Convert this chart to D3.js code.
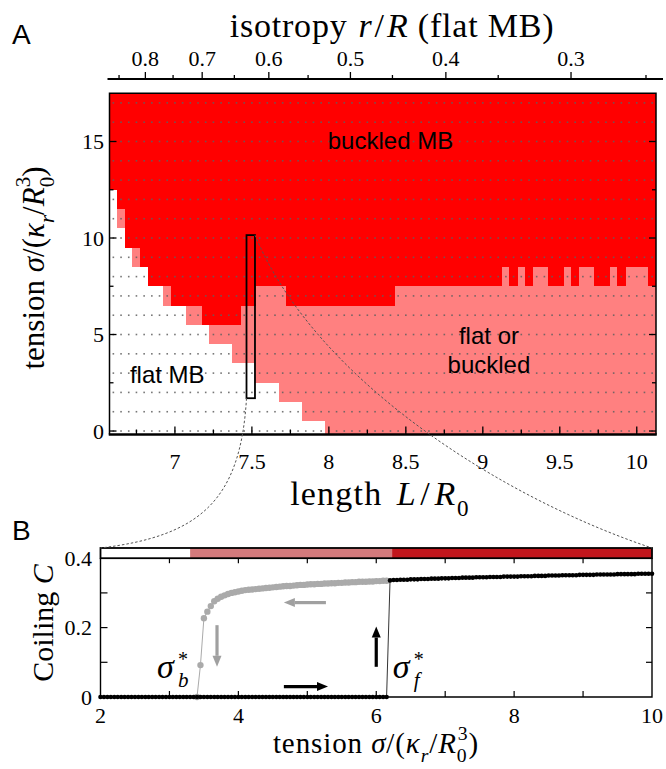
<!DOCTYPE html>
<html>
<head>
<meta charset="utf-8">
<script src="https://cdnjs.cloudflare.com/ajax/libs/d3/7.8.5/d3.min.js"></script>
<style>
  body { margin: 0; background: #fff; }
  svg { display: block; }
</style>
</head>
<body>
<svg id="chart"></svg>
<script>
// ---- panel A: phase diagram, one column per simulated length L/R0 ----
const lengths = [
  6.60, 6.65, 6.70, 6.75, 6.80, 6.85, 6.90, 6.95, 7.00, 7.05,
  7.10, 7.15, 7.20, 7.25, 7.30, 7.35, 7.40, 7.45, 7.50, 7.55,
  7.60, 7.65, 7.70, 7.75, 7.80, 7.85, 7.90, 7.95, 8.00, 8.05,
  8.10, 8.15, 8.20, 8.25, 8.30, 8.35, 8.40, 8.45, 8.50, 8.55,
  8.60, 8.65, 8.70, 8.75, 8.80, 8.85, 8.90, 8.95, 9.00, 9.05,
  9.10, 9.15, 9.20, 9.25, 9.30, 9.35, 9.40, 9.45, 9.50, 9.55,
  9.60, 9.65, 9.70, 9.75, 9.80, 9.85, 9.90, 9.95, 10.00, 10.05,
  10.10
];
// lowest tension that is no longer flat (flat or buckled)
const bistableFrom = [
  13, 11, 10, 9, 9, 8, 8, 7, 7, 7,
  6, 6, 6, 5, 5, 5, 4, 4, 4, 3,
  3, 3, 2, 2, 2, 1, 1, 1, 0, 0,
  0, 0, 0, 0, 0, 0, 0, 0, 0, 0,
  0, 0, 0, 0, 0, 0, 0, 0, 0, 0,
  0, 0, 0, 0, 0, 0, 0, 0, 0, 0,
  0, 0, 0, 0, 0, 0, 0, 0, 0, 0,
  0
];
// lowest tension that is always buckled
const buckledFrom = [
  13, 12, 10, 10, 9, 8, 8, 8, 7, 7,
  7, 7, 6, 6, 6, 6, 6, 7, 7, 8,
  8, 8, 8, 7, 7, 7, 7, 7, 7, 7,
  7, 7, 7, 7, 7, 7, 7, 8, 8, 8,
  8, 8, 8, 8, 8, 8, 8, 8, 8, 8,
  8, 9, 8, 9, 8, 9, 9, 8, 8, 9,
  8, 9, 9, 8, 8, 9, 8, 9, 9, 9,
  8
];
const tensions = [0, 1, 2, 3, 4, 5, 6, 7, 8, 9, 10, 11, 12, 13, 14, 15, 16, 17];

const lengthMajor = [7, 7.5, 8, 8.5, 9, 9.5, 10];
const lengthMinor = [6.75, 7.25, 7.75, 8.25, 8.75, 9.25, 9.75];
const tensionMajor = [0, 5, 10, 15];
const tensionMinor = [2.5, 7.5, 12.5];

// top axis: isotropy r/R of the flat MB, and the length where each tick sits
const isoMajor = [0.8, 0.7, 0.6, 0.5, 0.4, 0.3];
const isoMajorAt = [6.808, 7.177, 7.610, 8.140, 8.760, 9.573];
const isoMinor = [0.85, 0.75, 0.65, 0.55, 0.45, 0.35, 0.25];
const isoMinorAt = [6.637, 6.988, 7.386, 7.865, 8.413, 9.100, 10.060];

// zoom window drawn in A (L range, tension range)
const zoomL = [7.465, 7.52];
const zoomS = [1.7, 10.15];

// ---- panel B: coiling vs tension at L/R0 = 7.5 ----
const fwdSigma = [
  2, 2.05, 2.1, 2.15, 2.2, 2.25, 2.3, 2.35, 2.4, 2.45, 2.5, 2.55, 2.6, 2.65, 2.7, 2.75, 2.8, 2.85, 2.9, 2.95,
  3, 3.05, 3.1, 3.15, 3.2, 3.25, 3.3, 3.35, 3.4, 3.45, 3.5, 3.55, 3.6, 3.65, 3.7, 3.75, 3.8, 3.85, 3.9, 3.95,
  4, 4.05, 4.1, 4.15, 4.2, 4.25, 4.3, 4.35, 4.4, 4.45, 4.5, 4.55, 4.6, 4.65, 4.7, 4.75, 4.8, 4.85, 4.9, 4.95,
  5, 5.05, 5.1, 5.15, 5.2, 5.25, 5.3, 5.35, 5.4, 5.45, 5.5, 5.55, 5.6, 5.65, 5.7, 5.75, 5.8, 5.85, 5.9, 5.95,
  6, 6.05, 6.1, 6.15, 6.2, 6.25, 6.3, 6.35, 6.4, 6.45, 6.5, 6.55, 6.6, 6.65, 6.7, 6.75, 6.8, 6.85, 6.9, 6.95,
  7, 7.05, 7.1, 7.15, 7.2, 7.25, 7.3, 7.35, 7.4, 7.45, 7.5, 7.55, 7.6, 7.65, 7.7, 7.75, 7.8, 7.85, 7.9, 7.95,
  8, 8.05, 8.1, 8.15, 8.2, 8.25, 8.3, 8.35, 8.4, 8.45, 8.5, 8.55, 8.6, 8.65, 8.7, 8.75, 8.8, 8.85, 8.9, 8.95,
  9, 9.05, 9.1, 9.15, 9.2, 9.25, 9.3, 9.35, 9.4, 9.45, 9.5, 9.55, 9.6, 9.65, 9.7, 9.75, 9.8, 9.85, 9.9, 9.95,
  10
];
const fwdCoiling = [
  0, 0, 0, 0, 0, 0, 0, 0, 0, 0, 0, 0, 0, 0, 0, 0, 0, 0, 0, 0,
  0, 0, 0, 0, 0, 0, 0, 0, 0, 0, 0, 0, 0, 0, 0, 0, 0, 0, 0, 0,
  0, 0, 0, 0, 0, 0, 0, 0, 0, 0, 0, 0, 0, 0, 0, 0, 0, 0, 0, 0,
  0, 0, 0, 0, 0, 0, 0, 0, 0, 0, 0, 0, 0, 0, 0, 0, 0, 0, 0, 0,
  0, 0, 0, 0, 0.336, 0.337, 0.337, 0.338, 0.338, 0.338, 0.339, 0.339, 0.339, 0.340, 0.340, 0.340, 0.341, 0.341, 0.341, 0.342,
  0.342, 0.342, 0.343, 0.343, 0.343, 0.344, 0.344, 0.344, 0.344, 0.345, 0.345, 0.345, 0.345, 0.346, 0.346, 0.346, 0.346, 0.347, 0.347, 0.347,
  0.347, 0.347, 0.348, 0.348, 0.348, 0.348, 0.349, 0.349, 0.349, 0.349, 0.350, 0.350, 0.350, 0.350, 0.351, 0.351, 0.351, 0.351, 0.351, 0.352,
  0.352, 0.352, 0.352, 0.352, 0.353, 0.353, 0.353, 0.353, 0.353, 0.353, 0.354, 0.354, 0.354, 0.354, 0.354, 0.354, 0.355, 0.355, 0.355, 0.355,
  0.355
];
// backward sweep (grey), visible part only
const bwdSigma = [
  3.4, 3.45, 3.5, 3.55, 3.6, 3.65, 3.7, 3.75, 3.8, 3.85, 3.9, 3.95,
  4, 4.05, 4.1, 4.15, 4.2, 4.25, 4.3, 4.35, 4.4, 4.45, 4.5, 4.55, 4.6, 4.65, 4.7, 4.75, 4.8, 4.85, 4.9, 4.95,
  5, 5.05, 5.1, 5.15, 5.2, 5.25, 5.3, 5.35, 5.4, 5.45, 5.5, 5.55, 5.6, 5.65, 5.7, 5.75, 5.8, 5.85, 5.9, 5.95,
  6, 6.05, 6.1, 6.15
];
const bwdCoiling = [
  0, 0.092, 0.227, 0.246, 0.262, 0.276, 0.283, 0.289, 0.293, 0.297, 0.300, 0.302,
  0.304, 0.306, 0.308, 0.309, 0.310, 0.311, 0.312, 0.313, 0.314, 0.315, 0.316, 0.317, 0.318, 0.319, 0.320, 0.320, 0.321, 0.322, 0.323, 0.323,
  0.324, 0.325, 0.325, 0.326, 0.326, 0.327, 0.327, 0.328, 0.328, 0.329, 0.329, 0.330, 0.330, 0.331, 0.331, 0.332, 0.332, 0.332, 0.333, 0.333,
  0.334, 0.334, 0.335, 0.335
];
// state bar above B: flat | flat or buckled | buckled
const barBreaks = [2, 3.3, 6.23, 10];
const barColors = ['#ffffff', '#d47a7c', '#c1161c'];

const sigmaMajor = [2, 4, 6, 8, 10];
const sigmaTicks = [3, 4, 5, 6, 7, 8, 9];
const coilMajor = [0, 0.2, 0.4];
const coilTicks = [0.1, 0.2, 0.3];

// arrows: [sigma0, C0, sigma1, C1, colour]
const arrows = [
  [5.27, 0.272, 4.66, 0.272, '#a0a0a0'],
  [3.69, 0.207, 3.69, 0.087, '#a0a0a0'],
  [4.66, 0.030, 5.30, 0.030, '#000'],
  [6.00, 0.087, 6.00, 0.203, '#000']
];

const W = 666, H = 769;
const RED = '#ff0000', PINK = '#ff8080';
const SERIF = '"Liberation Serif", "Times New Roman", serif';
const SANS = '"Liberation Sans", Arial, sans-serif';

const svg = d3.select('#chart').attr('width', W).attr('height', H);

// ---------------- panel A ----------------
const xA = d3.scaleLinear().domain([6.575, 10.125]).range([109.5, 656]);
const yA = d3.scaleLinear().domain([-0.18, 17.5]).range([434.5, 93.25]);
const [sLo, sHi] = yA.domain();
const half = 0.025;

const cols = lengths.map((L, i) => ({ L, b: bistableFrom[i], k: buckledFrom[i] }));
const gA = svg.append('g');

gA.selectAll('rect.pink').data(cols).join('rect')
  .attr('class', 'pink')
  .attr('x', d => xA(d.L - half) - 0.3)
  .attr('width', d => xA(d.L + half) - xA(d.L - half) + 0.6)
  .attr('y', yA(sHi))
  .attr('height', d => yA(Math.max(sLo, d.b - 0.5)) - yA(sHi))
  .attr('fill', PINK)
  .attr('shape-rendering', 'crispEdges');

gA.selectAll('rect.red').data(cols).join('rect')
  .attr('class', 'red')
  .attr('x', d => xA(d.L - half) - 0.3)
  .attr('width', d => xA(d.L + half) - xA(d.L - half) + 0.6)
  .attr('y', yA(sHi))
  .attr('height', d => yA(Math.max(sLo, d.k - 0.5)) - yA(sHi))
  .attr('fill', RED)
  .attr('shape-rendering', 'crispEdges');

// dotted simulation grid
const grid = [];
lengths.forEach(L => tensions.forEach(s => grid.push([L, s])));
gA.selectAll('rect.dot').data(grid).join('rect')
  .attr('class', 'dot')
  .attr('x', d => xA(d[0]) - 0.8)
  .attr('y', d => yA(d[1]) - 0.8)
  .attr('width', 1.6).attr('height', 1.6)
  .attr('fill', '#5f5f5f').attr('opacity', 0.85);

// frame
const [ax0, ax1] = xA.range();
const ayB = yA(sLo), ayT = yA(sHi);
gA.append('path')
  .attr('d', `M${ax0},${ayB}V${ayT}H${ax1}V${ayB}`)
  .attr('fill', 'none').attr('stroke', '#000').attr('stroke-width', 1.5);
gA.append('line').attr('x1', ax0 - 0.75).attr('x2', ax1 + 0.75).attr('y1', ayB).attr('y2', ayB)
  .attr('stroke', '#000').attr('stroke-width', 2.6);

// ticks, inward
function ticksA(vals, len, side) {
  gA.selectAll(null).data(vals).join('line')
    .attr('x1', d => side === 'b' ? xA(d) : side === 'l' ? ax0 : ax1)
    .attr('x2', d => side === 'b' ? xA(d) : side === 'l' ? ax0 + len : ax1 - len)
    .attr('y1', d => side === 'b' ? ayB : yA(d))
    .attr('y2', d => side === 'b' ? ayB - len : yA(d))
    .attr('stroke', '#000').attr('stroke-width', 1.3);
}
ticksA(lengthMajor, 8, 'b');
ticksA(lengthMinor, 5, 'b');
ticksA(tensionMajor, 7, 'l');
ticksA(tensionMinor, 4, 'l');
ticksA(tensionMajor, 7, 'r');
ticksA(tensionMinor, 4, 'r');

gA.selectAll('text.xt').data(lengthMajor).join('text')
  .attr('x', d => xA(d)).attr('y', 469)
  .attr('text-anchor', 'middle')
  .style('font-family', SERIF).style('font-size', '22px')
  .text(d => d);
gA.selectAll('text.yt').data(tensionMajor).join('text')
  .attr('x', 104).attr('y', d => yA(d) + 7.5)
  .attr('text-anchor', 'end')
  .style('font-family', SERIF).style('font-size', '22px')
  .text(d => d);

// top isotropy axis
const topY = 79;
const gT = svg.append('g');
gT.append('line').attr('x1', 107.5).attr('x2', 663).attr('y1', topY).attr('y2', topY)
  .attr('stroke', '#000').attr('stroke-width', 1.8);
gT.selectAll('line.maj').data(isoMajorAt).join('line')
  .attr('x1', d => xA(d)).attr('x2', d => xA(d))
  .attr('y1', topY).attr('y2', topY - 7)
  .attr('stroke', '#000').attr('stroke-width', 1.3);
gT.selectAll('line.min').data(isoMinorAt).join('line')
  .attr('x1', d => xA(d)).attr('x2', d => xA(d))
  .attr('y1', topY).attr('y2', topY - 4)
  .attr('stroke', '#000').attr('stroke-width', 1.3);
gT.selectAll('text').data(isoMajor).join('text')
  .attr('x', (d, i) => xA(isoMajorAt[i])).attr('y', 66)
  .attr('text-anchor', 'middle')
  .style('font-family', SERIF).style('font-size', '22px')
  .text(d => d);

// rich text helper: parts = [[text, kind, dx]], kind: '', 'i', 'sub', 'isub', 'sup', 'supback'
function rich(sel, parts, fs) {
  let shift = 0;
  parts.forEach(([t, kind, dx]) => {
    const ts = sel.append('tspan').text(t);
    let target = 0;
    if (kind === 'i' || kind === 'isub') ts.style('font-style', 'italic');
    if (kind === 'sub' || kind === 'isub') { target = 0.32 * fs; ts.style('font-size', (0.68 * fs) + 'px'); }
    if (kind === 'sup') { target = -0.46 * fs; ts.style('font-size', (0.68 * fs) + 'px'); }
    if (kind === 'supback') { target = -0.46 * fs; ts.style('font-size', (0.68 * fs) + 'px').attr('dx', -0.34 * fs); }
    if (dx) ts.attr('dx', dx * fs);
    if (target !== shift) { ts.attr('dy', target - shift); shift = target; }
  });
  return sel;
}

const tensionLabel = [
  ['tension ', ''], ['σ', 'i'], ['/(', ''], ['κ', 'i'], ['r', 'isub'], ['/', ''],
  ['R', 'i'], ['0', 'sub'], ['3', 'supback'], [')', '']
];

rich(svg.append('text').attr('x', 392).attr('y', 37).attr('text-anchor', 'middle')
  .style('font-family', SERIF).style('font-size', '34px').style('letter-spacing', '0.8px'),
  [['isotropy ', ''], ['r', 'i', 0.05], ['/', '', 0.06], ['R', 'i', 0.06], ['  (flat MB)', '']], 34);

rich(svg.append('text').attr('x', 380).attr('y', 505).attr('text-anchor', 'middle')
  .style('font-family', SERIF).style('font-size', '34px').style('letter-spacing', '1.2px'),
  [['length ', ''], ['L', 'i', 0.14], ['/', '', 0.1], ['R', 'i', 0.1], ['0', 'sub', 0.02]], 34);

rich(svg.append('text').attr('transform', 'translate(44,268) rotate(-90)').attr('text-anchor', 'middle')
  .style('font-family', SERIF).style('font-size', '31px'), tensionLabel, 31);

// region labels
const regionFont = g => g.style('font-family', SANS).style('font-size', '24px').attr('text-anchor', 'middle');
svg.append('text').attr('x', xA(8.40)).attr('y', 149).call(regionFont).text('buckled MB');
svg.append('text').attr('x', xA(9.04)).attr('y', 344).call(regionFont).text('flat or');
svg.append('text').attr('x', xA(9.04)).attr('y', 373).call(regionFont).text('buckled');
svg.append('text').attr('x', xA(6.95)).attr('y', 383).call(regionFont).text('flat MB');

// zoom window
svg.append('rect')
  .attr('x', xA(zoomL[0])).attr('y', yA(zoomS[1]))
  .attr('width', xA(zoomL[1]) - xA(zoomL[0]))
  .attr('height', yA(zoomS[0]) - yA(zoomS[1]))
  .attr('fill', 'none').attr('stroke', '#000').attr('stroke-width', 1.8);

// panel letters
svg.append('text').attr('x', 12).attr('y', 44).style('font-family', SANS).style('font-size', '28px').text('A');
svg.append('text').attr('x', 12).attr('y', 540).style('font-family', SANS).style('font-size', '28px').text('B');

// ---------------- panel B ----------------
const xB = d3.scaleLinear().domain([2, 10]).range([100.5, 652]);
const yB = d3.scaleLinear().domain([0, 0.4]).range([697, 558.2]);
const barTop = 548;
const [bx0, bx1] = xB.range();
const by0 = yB(0), by1 = yB(0.4);
const gB = svg.append('g');

// connectors from the zoom window to panel B
const conn = d3.path();
{
  const p0 = [xA(zoomL[0]), yA(zoomS[0])], p3 = [bx0, barTop];
  conn.moveTo(p0[0], p0[1]);
  conn.bezierCurveTo(p0[0] - 6, p0[1] + 102, p3[0] + 100, p3[1] - 12, p3[0], p3[1]);
  const q0 = [xA(zoomL[1]), yA(zoomS[1])], q3 = [bx1, barTop];
  conn.moveTo(q0[0], q0[1]);
  conn.bezierCurveTo(q0[0] + 60, q0[1] + 145, q3[0] - 150, q3[1] - 50, q3[0], q3[1]);
}
svg.append('path').attr('d', conn.toString())
  .attr('fill', 'none').attr('stroke', '#555').attr('stroke-width', 1)
  .attr('stroke-dasharray', '2.5,2');

// state bar
gB.selectAll('rect.bar').data(barColors).join('rect')
  .attr('x', (d, i) => xB(barBreaks[i]))
  .attr('width', (d, i) => xB(barBreaks[i + 1]) - xB(barBreaks[i]))
  .attr('y', barTop).attr('height', by1 - barTop)
  .attr('fill', d => d);
gB.append('rect').attr('x', bx0).attr('y', barTop).attr('width', bx1 - bx0).attr('height', by1 - barTop)
  .attr('fill', 'none').attr('stroke', '#000').attr('stroke-width', 1.8);

// axes frame
gB.append('path').attr('d', `M${bx0},${by1}V${by0}H${bx1}V${by1}`)
  .attr('fill', 'none').attr('stroke', '#000').attr('stroke-width', 1.4);

gB.selectAll('line.tb').data(sigmaTicks).join('line')
  .attr('x1', d => xB(d)).attr('x2', d => xB(d)).attr('y1', by0).attr('y2', by0 - 6)
  .attr('stroke', '#000').attr('stroke-width', 1.2);
gB.selectAll('line.tt').data(sigmaTicks).join('line')
  .attr('x1', d => xB(d)).attr('x2', d => xB(d)).attr('y1', by1).attr('y2', by1 + 5)
  .attr('stroke', '#000').attr('stroke-width', 1.2);
gB.selectAll('line.tl').data(coilTicks).join('line')
  .attr('x1', bx0).attr('x2', bx0 + 7).attr('y1', d => yB(d)).attr('y2', d => yB(d))
  .attr('stroke', '#000').attr('stroke-width', 1.2);
gB.selectAll('line.tr').data(coilTicks).join('line')
  .attr('x1', bx1).attr('x2', bx1 - 6).attr('y1', d => yB(d)).attr('y2', d => yB(d))
  .attr('stroke', '#000').attr('stroke-width', 1.2);

gB.selectAll('text.xt').data(sigmaMajor).join('text')
  .attr('x', d => xB(d)).attr('y', 723).attr('text-anchor', 'middle')
  .style('font-family', SERIF).style('font-size', '22px').text(d => d);
gB.selectAll('text.yt').data(coilMajor).join('text')
  .attr('x', 92).attr('y', d => yB(d) + 7.5).attr('text-anchor', 'end')
  .style('font-family', SERIF).style('font-size', '22px').text(d => d);

// data
const line = d3.line().x(d => xB(d[0])).y(d => yB(d[1]));
const bwd = bwdSigma.map((s, i) => [s, bwdCoiling[i]]);
const fwd = fwdSigma.map((s, i) => [s, fwdCoiling[i]]);

gB.append('path').attr('d', line(bwd)).attr('fill', 'none').attr('stroke', '#aaa').attr('stroke-width', 1);
gB.selectAll('circle.bwd').data(bwd).join('circle')
  .attr('cx', d => xB(d[0])).attr('cy', d => yB(d[1])).attr('r', 3.2).attr('fill', '#aaa');
gB.append('path').attr('d', line(fwd)).attr('fill', 'none').attr('stroke', '#000').attr('stroke-width', 0.8);
gB.selectAll('circle.fwd').data(fwd).join('circle')
  .attr('cx', d => xB(d[0])).attr('cy', d => yB(d[1])).attr('r', 2.3).attr('fill', '#000');

// arrows
arrows.forEach(([s0, c0, s1, c1, col]) => {
  const x0 = xB(s0), y0 = yB(c0), x1 = xB(s1), y1 = yB(c1);
  const a = Math.atan2(y1 - y0, x1 - x0), hl = 11, hw = 4.5;
  const bx = x1 - hl * Math.cos(a), by = y1 - hl * Math.sin(a);
  gB.append('line').attr('x1', x0).attr('y1', y0).attr('x2', bx).attr('y2', by)
    .attr('stroke', col).attr('stroke-width', 3.2);
  gB.append('path')
    .attr('d', `M${x1},${y1}L${bx + hw * Math.sin(a)},${by - hw * Math.cos(a)}L${bx - hw * Math.sin(a)},${by + hw * Math.cos(a)}Z`)
    .attr('fill', col);
});

// sigma* labels: sigma, subscript and star as separate pieces
function sigmaStar(sub, s, c) {
  const x = xB(s), y = yB(c);
  gB.append('text').attr('x', x).attr('y', y)
    .style('font-family', SERIF).style('font-size', '34px').style('font-style', 'italic').text('σ');
  gB.append('text').attr('x', x + 21).attr('y', y + 9)
    .style('font-family', SERIF).style('font-size', '21px').style('font-style', 'italic').text(sub);
  gB.append('text').attr('x', x + 21).attr('y', y - 12)
    .style('font-family', SERIF).style('font-size', '20px').text('*');
}
sigmaStar('b', 2.82, 0.055);
sigmaStar('f', 6.24, 0.055);

rich(svg.append('text').attr('transform', 'translate(53,623) rotate(-90)').attr('text-anchor', 'middle')
  .style('font-family', SERIF).style('font-size', '30px'),
  [['Coiling ', ''], ['C', 'i']], 30);

rich(svg.append('text').attr('x', 376).attr('y', 753).attr('text-anchor', 'middle')
  .style('font-family', SERIF).style('font-size', '29px').style('letter-spacing', '0.9px'), tensionLabel, 29);
</script>
</body>
</html>
